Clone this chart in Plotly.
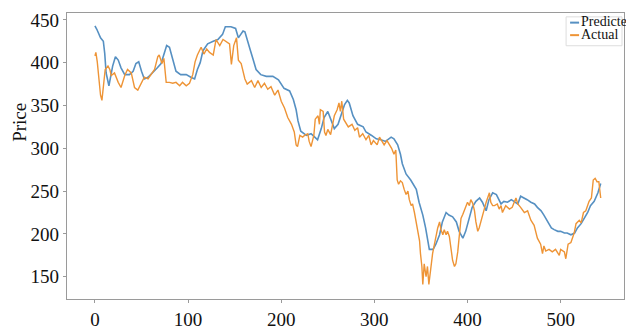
import plotly.graph_objects as go

# ---- data ----
pred_x = [0, 2, 6, 9, 10.5, 12, 15, 19, 22, 25, 28, 32, 37, 41, 44, 47, 50, 53, 57, 60, 64, 67, 71, 74, 77, 80,
          84, 87, 92, 98, 103, 107, 110, 113, 116, 121, 127, 132, 137, 140, 146, 151, 154, 159, 161, 164, 167,
          170, 173, 178, 184, 191, 197, 203, 209, 213, 216, 218, 221, 227, 232, 236, 239, 243, 246, 250, 254,
          257, 261, 264, 268, 271, 273, 277, 282, 288, 291, 297, 302, 307, 312, 318, 321, 325, 328, 330, 334,
          339, 345, 348, 352, 355, 357, 359, 363, 366, 370, 373, 377, 380, 384, 388, 391, 395, 398, 402, 405,
          409, 413, 416, 420, 423, 427, 431, 434, 436, 439, 443, 447, 450, 454, 457, 461, 464, 468, 472, 475,
          479, 482, 486, 490, 493, 497, 500, 504, 507, 511, 515, 518, 522, 525, 529, 532, 536, 540, 543]
pred_y = [443, 439, 429, 425, 411, 388, 373, 396, 407, 403, 394, 386, 386, 390, 399, 401, 390, 381, 383, 386,
          390, 394, 399, 411, 420, 418, 403, 390, 386, 386, 383, 381, 392, 400, 414, 422, 425, 427, 433, 442,
          442, 440, 429, 437, 436, 426, 414, 403, 392, 386, 384, 384, 380, 370, 367, 357, 345, 332, 320, 315,
          317, 313, 310, 323, 336, 343, 332, 323, 328, 338, 351, 356, 353, 338, 328, 325, 319, 315, 311, 310,
          308, 313, 311, 304, 293, 282, 270, 263, 252, 237, 222, 207, 195, 182, 182, 188, 199, 214, 225, 222,
          220, 214, 203, 195, 203, 218, 231, 238, 242, 237, 227, 240, 248, 246, 240, 235, 238, 237, 240, 238,
          235, 244, 242, 240, 237, 235, 231, 227, 222, 214, 207, 205, 203, 203, 201, 201, 199, 201, 207, 212,
          218, 225, 233, 238, 248, 259]

act_x = [0, 1, 2.5, 4, 6, 7.5, 9.5, 11, 14, 16, 17.5, 21, 25, 28, 32, 35, 39, 42.5, 46, 50, 53, 57, 60, 64,
         67.5, 69, 72, 74, 76.5, 80, 83.5, 87, 91, 94, 98, 101.5, 105, 107.5, 110, 114, 117, 120, 123, 127,
         130, 134, 137.5, 141, 144.5, 146.5, 149, 152, 154, 157, 161, 163.5, 168, 171.5, 175, 178.5, 182,
         185.5, 189, 193, 196.5, 200, 203.5, 207, 211, 214, 216, 217.5, 220, 223, 225, 228.5, 230, 232, 235,
         236.5, 239.5, 241, 242, 245, 246.5, 248, 250, 253, 255.5, 257, 260, 262, 263.5, 265, 267, 270, 272,
         276, 279, 282, 284, 287.5, 291, 294, 296.5, 299, 303, 305.5, 308, 310.5, 313.5, 316, 318.5, 321, 323,
         324.5, 326, 328, 330, 332, 334, 336, 337.5, 339.5, 341, 343, 345, 346.5, 348.5, 349.5, 351, 352,
         353.5, 355.5, 357, 358.5, 361, 362.5, 364.5, 366, 368, 370, 371.5, 373.5, 375, 377, 378.5, 380.5,
         382.5, 384, 386, 387.5, 389.5, 391, 393, 395, 396.5, 398.5, 400, 402, 403.5, 405.5, 407.5, 409, 411,
         412.5, 414.5, 416, 418, 420, 421.5, 423.5, 425, 427, 429, 432, 434, 436, 437.5, 441, 445, 448, 452,
         454, 457, 461, 464.5, 468, 471.5, 473.5, 475, 478.5, 480.5, 482, 484, 487.5, 491, 494.5, 498.5, 500,
         504, 505.5, 508, 511, 514.5, 516.5, 520, 522, 524.5, 527, 530.5, 533, 535, 537, 539, 541, 543]
act_y = [408, 412, 401, 381, 362, 356, 373, 392, 396, 392, 385, 388, 377, 371, 385, 392, 388, 371, 368, 377,
         383, 381, 386, 392, 407, 409, 399, 405, 377, 377, 376, 377, 373, 377, 373, 376, 386, 401, 409, 418,
         410, 416, 412, 409, 427, 420, 427, 424, 422, 398, 420, 429, 403, 399, 381, 375, 379, 371, 379, 371,
         376, 369, 372, 362, 368, 355, 347, 336, 328, 319, 304, 302, 315, 313, 315, 317, 308, 302, 315, 334,
         338, 328, 345, 343, 319, 315, 322, 316, 328, 338, 345, 353, 343, 355, 334, 328, 325, 328, 321, 324,
         313, 317, 310, 315, 304, 309, 304, 313, 309, 304, 309, 304, 300, 293, 298, 263, 258, 262, 260, 252,
         246, 250, 240, 233, 235, 225, 214, 203, 192, 177, 162, 141, 165, 150, 162, 141, 169, 177, 188, 197,
         207, 214, 205, 199, 205, 199, 203, 197, 184, 169, 162, 165, 179, 197, 218, 223, 227, 231, 237, 233,
         240, 236, 227, 214, 203, 207, 214, 222, 229, 237, 242, 248, 237, 233, 233, 235, 229, 233, 225, 233,
         229, 231, 242, 235, 231, 225, 227, 216, 210, 203, 195, 188, 177, 186, 180, 182, 179, 182, 175, 182,
         179, 171, 188, 190, 201, 212, 216, 213, 225, 227, 238, 242, 263, 265, 261, 261, 242]

x_ticks = [0, 100, 200, 300, 400, 500]
y_ticks = [150, 200, 250, 300, 350, 400, 450]
series_names = ["Predicted", "Actual"]

BLUE = "#5690c2"
ORANGE = "#ee9436"
SERIF = "Liberation Serif"

fig = go.Figure()
fig.add_trace(go.Scatter(x=pred_x, y=pred_y, mode="lines", name=series_names[0],
                         line=dict(color=BLUE, width=1.6)))
fig.add_trace(go.Scatter(x=act_x, y=act_y, mode="lines", name=series_names[1],
                         line=dict(color=ORANGE, width=1.4)))

axis_common = dict(showgrid=False, zeroline=False, showline=True, linecolor="#9a9a9a", linewidth=1.2,
                   mirror=True, ticks="outside", ticklen=3, tickcolor="#9a9a9a",
                   tickfont=dict(family=SERIF, size=19, color="#111"))
fig.update_xaxes(range=[-30, 568], tickmode="array", tickvals=x_ticks,
                 ticktext=[str(v) for v in x_ticks], **axis_common)
fig.update_yaxes(range=[124, 458], tickmode="array", tickvals=y_ticks,
                 ticktext=[str(v) for v in y_ticks], **axis_common)

# custom legend (matplotlib style)
L, T, B, R = 567, 17, 47, 623
W, H, ML, MT, MB = 626, 331, 67, 13, 21
pw, ph = W - ML - 1, H - MT - MB
def px2paper(px, py):
    return (px - ML) / pw, (H - MB - py) / ph

x0, y0 = px2paper(L, B)
x1, y1 = px2paper(R, T)
shapes = [dict(type="rect", xref="paper", yref="paper", x0=x0, y0=y0, x1=x1, y1=y1,
               line=dict(color="#dddddd", width=1), fillcolor="rgba(255,255,255,0.85)")]
annotations = []
for i, (name, col) in enumerate(zip(series_names, [BLUE, ORANGE])):
    ly = 23 + i * 13
    a0, b0 = px2paper(571, ly)
    a1, _ = px2paper(580, ly)
    shapes.append(dict(type="line", xref="paper", yref="paper", x0=a0, x1=a1, y0=b0, y1=b0,
                       line=dict(color=col, width=2)))
    tx, ty = px2paper(580, ly - 1)
    annotations.append(dict(xref="paper", yref="paper", x=tx, y=ty, text=name, showarrow=False,
                            xanchor="left", yanchor="middle",
                            font=dict(family=SERIF, size=14, color="#111")))

ax, ay = px2paper(20, 127)
annotations.append(dict(xref="paper", yref="paper", x=ax, y=ay, text="Price", showarrow=False,
                        textangle=-90, xanchor="center", yanchor="middle",
                        font=dict(family=SERIF, size=19, color="#111")))

fig.update_layout(width=W, height=H, margin=dict(l=ML, r=1, t=MT, b=MB),
                  font=dict(family=SERIF, color="#111"),
                  plot_bgcolor="white", paper_bgcolor="white", showlegend=False,
                  shapes=shapes, annotations=annotations)

fig.write_html("out.html")
